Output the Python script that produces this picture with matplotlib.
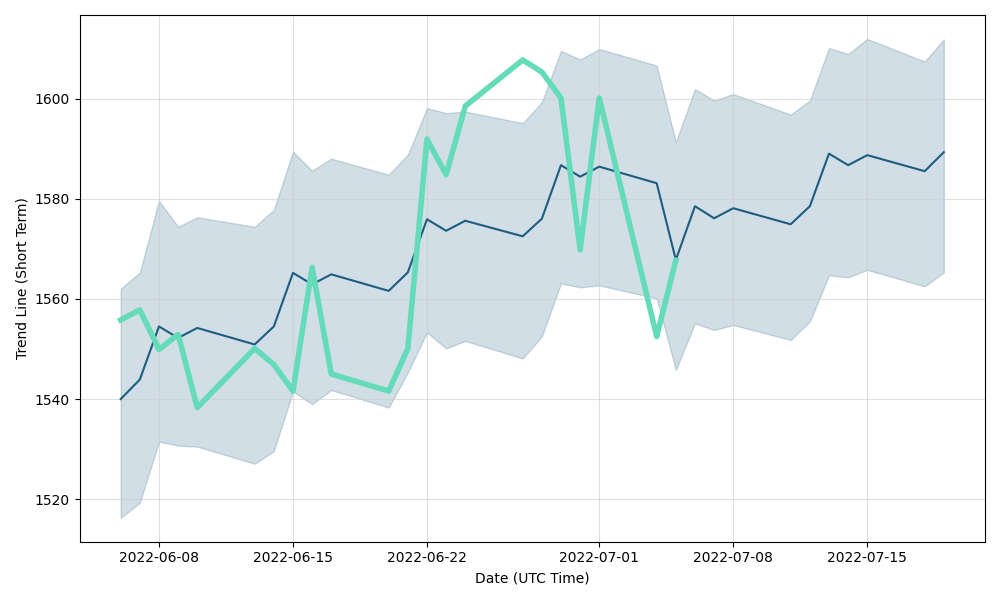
import numpy as np
import pandas as pd
import matplotlib
matplotlib.use("Agg")
import matplotlib.pyplot as plt

# trading days shown on the chart
dates = pd.to_datetime([
    "2022-06-06", "2022-06-07", "2022-06-08", "2022-06-09", "2022-06-10",
    "2022-06-13", "2022-06-14", "2022-06-15", "2022-06-16", "2022-06-17",
    "2022-06-20", "2022-06-21", "2022-06-22", "2022-06-23", "2022-06-24",
    "2022-06-27", "2022-06-28", "2022-06-29", "2022-06-30", "2022-07-01",
    "2022-07-04", "2022-07-05", "2022-07-06", "2022-07-07", "2022-07-08",
    "2022-07-11", "2022-07-12", "2022-07-13", "2022-07-14", "2022-07-15",
    "2022-07-18", "2022-07-19",
])

# short term trend line and its band
trend = np.array([
    1540.0, 1543.9, 1554.5, 1552.2, 1554.2,
    1550.9, 1554.5, 1565.2, 1562.9, 1564.9,
    1561.6, 1565.3, 1575.9, 1573.6, 1575.6,
    1572.5, 1576.0, 1586.7, 1584.4, 1586.4,
    1583.1, 1567.8, 1578.5, 1576.1, 1578.1,
    1574.9, 1578.5, 1589.0, 1586.7, 1588.7,
    1585.5, 1589.3,
])
upper = np.array([
    1562.0, 1565.3, 1579.6, 1574.4, 1576.3,
    1574.4, 1577.8, 1589.4, 1585.6, 1588.0,
    1584.8, 1588.8, 1598.1, 1597.1, 1597.4,
    1595.1, 1599.3, 1609.5, 1607.8, 1609.9,
    1606.6, 1591.3, 1601.9, 1599.6, 1600.9,
    1596.8, 1599.6, 1610.1, 1608.9, 1611.9,
    1607.4, 1611.8,
])
lower = np.array([
    1516.3, 1519.3, 1531.5, 1530.7, 1530.5,
    1527.1, 1529.6, 1541.5, 1539.0, 1541.8,
    1538.3, 1545.3, 1553.3, 1550.1, 1551.6,
    1548.1, 1552.5, 1563.1, 1562.3, 1562.7,
    1560.1, 1545.8, 1555.1, 1553.8, 1554.8,
    1551.8, 1555.5, 1564.7, 1564.3, 1565.8,
    1562.5, 1565.3,
])

# actual values, only known up to 2022-07-05
actual = np.array([
    1555.8, 1557.8, 1549.9, 1552.9, 1538.3,
    1550.1, 1546.9, 1541.6, 1566.3, 1545.0,
    1541.6, 1550.1, 1591.9, 1584.8, 1598.5,
    1607.7, 1605.3, 1600.1, 1569.8, 1600.1,
    1552.5, 1567.7,
])

dark = "#1d5e80"
green = "#64dcb9"

fig, ax = plt.subplots(figsize=(10, 6), dpi=100)
ax.fill_between(dates, lower, upper, color=dark, alpha=0.2)
ax.plot(dates, trend, color=dark, lw=1.5)
ax.plot(dates[:len(actual)], actual, color=green, lw=4)

ax.grid(True, color="#cccccc", alpha=0.6, lw=0.8)
ax.set_xlabel("Date (UTC Time)")
ax.set_ylabel("Trend Line (Short Term)")
fig.tight_layout()
fig.savefig("out.png")
